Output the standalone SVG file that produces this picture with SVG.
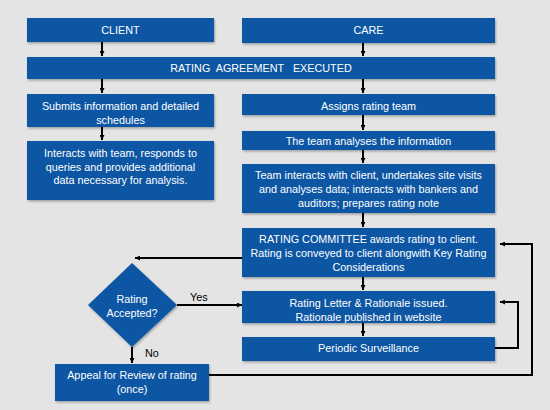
<svg xmlns="http://www.w3.org/2000/svg" width="550" height="410" viewBox="0 0 550 410">
<defs>
<filter id="sh" x="-5%" y="-10%" width="110%" height="130%">
<feDropShadow dx="1" dy="1.5" stdDeviation="1" flood-color="#000" flood-opacity="0.3"/>
</filter>
<marker id="ah" viewBox="0 0 10 10" refX="10" refY="5" markerWidth="5" markerHeight="5" orient="auto" markerUnits="userSpaceOnUse">
<path d="M0,0 L10,5 L0,10 z" fill="#000"/>
</marker>
</defs>
<style>
.b{fill:#0b57a4;filter:url(#sh)}
.t{fill:#fff;font-family:"Liberation Sans",Arial,sans-serif;font-size:10.8px;text-anchor:middle;dominant-baseline:central}
.c{fill:none;stroke:#000;stroke-width:2}
.l{fill:#000;font-family:"Liberation Sans",Arial,sans-serif;font-size:10.8px;dominant-baseline:central}
</style>
<rect width="550" height="410" fill="#e4e4e4"/>
<g id="connectors">
<path class="c" d="M102,42 V56" marker-end="url(#ah)"/>
<path class="c" d="M363,43 V56" marker-end="url(#ah)"/>
<path class="c" d="M102,79 V93" marker-end="url(#ah)"/>
<path class="c" d="M363,79 V93" marker-end="url(#ah)"/>
<path class="c" d="M102,127 V140" marker-end="url(#ah)"/>
<path class="c" d="M363,115 V130" marker-end="url(#ah)"/>
<path class="c" d="M363,150 V163" marker-end="url(#ah)"/>
<path class="c" d="M363,213 V227" marker-end="url(#ah)"/>
<path class="c" d="M363,277 V290" marker-end="url(#ah)"/>
<path class="c" d="M363,323 V336" marker-end="url(#ah)"/>
<path class="c" d="M242,258 H135" marker-end="url(#ah)"/>
<path class="c" d="M177,305 H242" marker-end="url(#ah)"/>
<path class="c" d="M132,347 V363" marker-end="url(#ah)"/>
<path class="c" d="M209,375 H532 V244 H500" marker-end="url(#ah)"/>
<path class="c" d="M495,348 H518 V302 H500" marker-end="url(#ah)"/>
<text class="l" x="190" y="297">Yes</text>
<text class="l" x="145" y="353">No</text>
</g>
<g id="client"><rect class="b" x="27" y="18" width="187" height="24"/><text class="t" x="120.5" y="30">CLIENT</text></g>
<g id="care"><rect class="b" x="242" y="18" width="253" height="25"/><text class="t" x="368.5" y="30">CARE</text></g>
<g id="agreement"><rect class="b" x="27" y="57" width="468" height="22"/><text class="t" x="261" y="68" style="white-space:pre">RATING  AGREEMENT   EXECUTED</text></g>
<g id="submits"><rect class="b" x="27" y="94" width="187" height="33"/><text class="t" x="120.5" y="106">Submits information and detailed</text><text class="t" x="120.5" y="119.5">schedules</text></g>
<g id="interacts"><rect class="b" x="27" y="141" width="187" height="59"/><text class="t" x="120.5" y="153">Interacts with team, responds to</text><text class="t" x="120.5" y="166.5">queries and provides additional</text><text class="t" x="120.5" y="180">data necessary for analysis.</text></g>
<g id="assigns"><rect class="b" x="242" y="94" width="253" height="21"/><text class="t" x="368.5" y="106">Assigns rating team</text></g>
<g id="analyses"><rect class="b" x="242" y="131" width="253" height="19"/><text class="t" x="368.5" y="141">The team analyses the information</text></g>
<g id="team-interacts"><rect class="b" x="242" y="164" width="253" height="49"/><text class="t" x="368.5" y="175">Team interacts with client, undertakes site visits</text><text class="t" x="368.5" y="189">and analyses data; interacts with bankers and</text><text class="t" x="368.5" y="203">auditors; prepares rating note</text></g>
<g id="committee"><rect class="b" x="242" y="228" width="253" height="49"/><text class="t" x="368.5" y="239">RATING COMMITTEE awards rating to client.</text><text class="t" x="368.5" y="253">Rating is conveyed to client alongwith Key Rating</text><text class="t" x="368.5" y="267">Considerations</text></g>
<g id="letter"><rect class="b" x="242" y="291" width="253" height="32"/><text class="t" x="368.5" y="302.5">Rating Letter &amp; Rationale issued.</text><text class="t" x="368.5" y="316.5">Rationale published in website</text></g>
<g id="surveillance"><rect class="b" x="242" y="337" width="253" height="24"/><text class="t" x="368.5" y="348">Periodic Surveillance</text></g>
<g id="decision"><path class="b" d="M132,263 L177,305 L132,347 L88,305 Z"/><text class="t" x="132" y="299">Rating</text><text class="t" x="132" y="313">Accepted?</text></g>
<g id="appeal"><rect class="b" x="55" y="364" width="154" height="37"/><text class="t" x="132" y="375">Appeal for Review of rating</text><text class="t" x="132" y="389">(once)</text></g>
</svg>
